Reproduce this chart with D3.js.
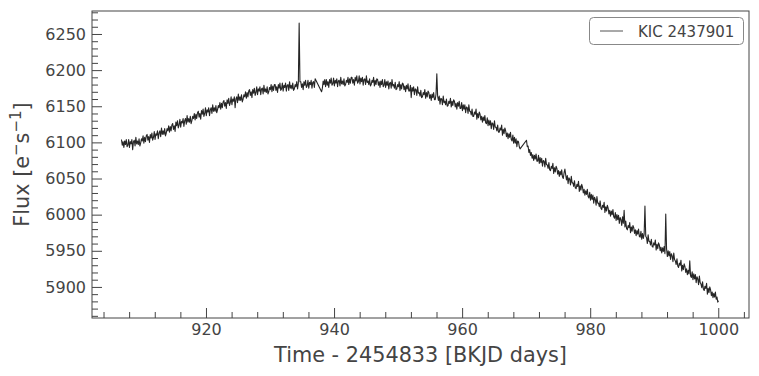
<!DOCTYPE html>
<html>
<head>
<meta charset="utf-8">
<script src="https://cdn.jsdelivr.net/npm/d3@7"></script>
<style>
  html, body { margin: 0; padding: 0; background: #fff; }
  svg { display: block; font-family: "DejaVu Sans", sans-serif; }
</style>
</head>
<body>
<svg id="chart" width="759" height="376"></svg>
<script>
// ---- data ----
const seriesName = "KIC 2437901";
const timeStart = 906.8;      // BKJD days, first sample
const timeStep = 0.125;       // days between samples (8 per row = 1 day)
// flux in e-/s; null = no data (gap)
const flux = [
  6104, 6096, 6101, 6093, 6102, 6097, 6104, 6094,
  6096, 6104, 6093, 6101, 6098, 6104, 6090, 6101,
  6103, 6095, 6107, 6098, 6102, 6097, 6105, 6095,
  6099, 6105, 6102, 6109, 6099, 6107, 6101, 6109,
  6111, 6103, 6108, 6100, 6111, 6106, 6113, 6103,
  6107, 6115, 6104, 6112, 6110, 6116, 6105, 6113,
  6116, 6108, 6120, 6111, 6116, 6111, 6119, 6109,
  6113, 6119, 6116, 6123, 6114, 6122, 6116, 6124,
  6126, 6118, 6123, 6115, 6128, 6123, 6130, 6120,
  6124, 6132, 6121, 6129, 6127, 6133, 6122, 6130,
  6133, 6125, 6137, 6128, 6133, 6128, 6136, 6126,
  6130, 6136, 6133, 6140, 6131, 6139, 6133, 6141,
  6143, 6135, 6140, 6132, 6144, 6139, 6146, 6136,
  6140, 6148, 6137, 6145, 6142, 6148, 6137, 6145,
  6148, 6140, 6152, 6143, 6148, 6143, 6151, 6141,
  6145, 6151, 6148, 6155, 6146, 6154, 6148, 6156,
  6158, 6150, 6155, 6147, 6159, 6154, 6161, 6151,
  6155, 6163, 6152, 6160, 6157, 6163, 6148, 6160,
  6163, 6155, 6167, 6158, 6163, 6158, 6166, 6156,
  6160, 6166, 6163, 6170, 6161, 6169, 6163, 6171,
  6173, 6165, 6170, 6162, 6173, 6168, 6175, 6165,
  6169, 6177, 6166, 6174, 6171, 6177, 6166, 6174,
  6175, 6167, 6179, 6170, 6174, 6169, 6177, 6167,
  6170, 6176, 6173, 6180, 6170, 6178, 6172, 6180,
  6180, 6172, 6177, 6169, 6180, 6175, 6182, 6172,
  6174, 6182, 6171, 6179, 6176, 6182, 6171, 6179,
  6180, 6172, 6184, 6175, 6179, 6174, 6182, 6172,
  6174, 6180, 6177, 6184, 6174, 6182, 6265, 6184,
  6184, 6176, 6181, 6173, 6184, 6179, 6186, 6176,
  6178, 6186, 6175, 6183, 6180, 6186, 6175, 6183,
  6184, 6176, 6188, null, null, null, null, null,
  null, null, 6170, 6175, 6185, 6180, 6187, 6177,
  6187, 6179, 6184, 6176, 6187, 6182, 6189, 6179,
  6181, 6189, 6178, 6186, 6182, 6188, 6177, 6185,
  6186, 6178, 6190, 6181, 6185, 6180, 6188, 6178,
  6180, 6186, 6183, 6190, 6180, 6188, 6182, 6190,
  6190, 6182, 6187, 6179, 6190, 6185, 6192, 6182,
  6184, 6192, 6181, 6189, 6184, 6190, 6179, 6187,
  6188, 6180, 6192, 6183, 6185, 6180, 6188, 6178,
  6180, 6186, 6183, 6190, 6178, 6186, 6180, 6188,
  6187, 6179, 6184, 6176, 6185, 6180, 6187, 6177,
  6179, 6187, 6176, 6184, 6179, 6185, 6174, 6182,
  6183, 6175, 6187, 6178, 6180, 6175, 6183, 6173,
  6174, 6180, 6177, 6184, 6172, 6180, 6174, 6182,
  6181, 6173, 6178, 6170, 6179, 6174, 6181, 6171,
  6171, 6179, 6162, 6176, 6171, 6177, 6166, 6174,
  6173, 6165, 6177, 6168, 6169, 6164, 6172, 6162,
  6163, 6169, 6166, 6173, 6161, 6169, 6163, 6171,
  6169, 6161, 6166, 6158, 6167, 6162, 6169, 6159,
  6159, 6167, 6195, 6164, 6158, 6164, 6153, 6161,
  6160, 6152, 6164, 6155, 6157, 6152, 6160, 6150,
  6151, 6157, 6154, 6161, 6149, 6157, 6151, 6159,
  6157, 6149, 6154, 6146, 6155, 6150, 6157, 6147,
  6147, 6155, 6144, 6152, 6146, 6152, 6141, 6149,
  6148, 6140, 6152, 6143, 6143, 6138, 6146, 6136,
  6136, 6142, 6139, 6146, 6132, 6140, 6134, 6142,
  6139, 6131, 6136, 6128, 6135, 6130, 6137, 6127,
  6126, 6134, 6123, 6131, 6124, 6130, 6119, 6127,
  6126, 6118, 6130, 6121, 6121, 6116, 6124, 6114,
  6114, 6120, 6117, 6124, 6110, 6118, 6112, 6120,
  6116, 6108, 6113, 6105, 6112, 6107, 6114, 6104,
  6102, 6110, 6099, 6107, 6099, 6105, 6094, 6102,
  6101, 6094, 6091, null, null, null, null, null,
  null, null, 6103, 6094, 6095, 6086, 6090, 6082,
  6086, 6078, 6083, 6075, 6082, 6077, 6084, 6074,
  6074, 6082, 6071, 6079, 6072, 6078, 6067, 6075,
  6074, 6066, 6078, 6069, 6069, 6064, 6072, 6062,
  6061, 6067, 6064, 6071, 6057, 6065, 6059, 6067,
  6064, 6056, 6061, 6053, 6060, 6055, 6062, 6052,
  6050, 6058, 6063, 6055, 6048, 6054, 6043, 6051,
  6049, 6041, 6053, 6044, 6044, 6039, 6047, 6037,
  6036, 6042, 6039, 6046, 6032, 6040, 6034, 6042,
  6038, 6030, 6035, 6027, 6033, 6028, 6035, 6025,
  6023, 6031, 6020, 6028, 6021, 6027, 6016, 6024,
  6021, 6013, 6025, 6016, 6016, 6011, 6019, 6009,
  6007, 6013, 6010, 6017, 6003, 6011, 6005, 6013,
  6009, 6001, 6006, 5998, 6005, 6000, 6007, 5997,
  5995, 6003, 5992, 6000, 5993, 5999, 5988, 5996,
  5993, 5985, 5997, 5988, 6006, 5983, 5991, 5981,
  5979, 5985, 5982, 5989, 5975, 5983, 5977, 5985,
  5982, 5974, 5979, 5971, 5978, 5973, 5980, 5970,
  5969, 5977, 5966, 5974, 5967, 5973, 6012, 5970,
  5968, 5960, 5972, 5963, 5963, 5958, 5966, 5956,
  5955, 5961, 5958, 5965, 5951, 5959, 5953, 5961,
  5958, 5950, 5955, 5947, 5954, 5949, 5956, 5946,
  6001, 5953, 5942, 5950, 5943, 5949, 5938, 5946,
  5943, 5935, 5947, 5938, 5936, 5931, 5939, 5929,
  5927, 5933, 5930, 5937, 5922, 5930, 5924, 5932,
  5928, 5920, 5925, 5917, 5923, 5918, 5936, 5915,
  5913, 5921, 5910, 5918, 5911, 5917, 5906, 5914,
  5911, 5903, 5915, 5906, 5904, 5899, 5907, 5897,
  5895, 5901, 5898, 5905, 5890, 5898, 5892, 5900,
  5896, 5888, 5893, 5885, 5891, 5886, 5893, 5883,
  5886, 5879, 5881
];
const xMajorTicks = [920, 940, 960, 980, 1000];
const yMajorTicks = [5900, 5950, 6000, 6050, 6100, 6150, 6200, 6250];
const xLabel = "Time - 2454833 [BKJD days]";

// ---- layout ----
const svg = d3.select("#chart");
const L = 92, R = 749, T = 11, B = 318;
const textColor = "#444";
const frameColor = "#444";

const x = d3.scaleLinear().domain([902.2, 1004.8]).range([L, R]);
const y = d3.scaleLinear().domain([5857, 6281.8]).range([B, T]);

const points = flux.map((f, i) => ({ t: timeStart + i * timeStep, f }))
                   .filter(d => d.f !== null);

// ---- line ----
svg.append("path")
  .datum(points)
  .attr("fill", "none")
  .attr("stroke", "#262626")
  .attr("stroke-width", 1.1)
  .attr("stroke-linejoin", "round")
  .attr("d", d3.line().x(d => x(d.t)).y(d => y(d.f)));

// ---- axes ----
const xMinor = d3.range(904, 1005, 4).filter(v => !xMajorTicks.includes(v));
const yMinor = d3.range(5860, 6281, 10).filter(v => !yMajorTicks.includes(v));

function styleAxis(g) {
  g.select(".domain").remove();
  g.selectAll(".tick line").attr("stroke", frameColor).attr("stroke-width", 1);
  g.selectAll(".tick text").attr("fill", textColor)
    .style("font-family", "DejaVu Sans, sans-serif").style("font-size", "16px");
}

svg.append("g").attr("transform", `translate(0,${B})`)
  .call(d3.axisBottom(x).tickValues(xMinor).tickSize(-6).tickFormat(""))
  .call(styleAxis);
svg.append("g").attr("transform", `translate(0,${B})`)
  .call(d3.axisBottom(x).tickValues(xMajorTicks).tickSize(-10).tickFormat(d3.format("d")))
  .call(styleAxis)
  .call(g => g.selectAll(".tick text").attr("y", 6).attr("dy", "0.71em"));
svg.append("g").attr("transform", `translate(${L},0)`)
  .call(d3.axisLeft(y).tickValues(yMinor).tickSize(-6).tickFormat(""))
  .call(styleAxis);
svg.append("g").attr("transform", `translate(${L},0)`)
  .call(d3.axisLeft(y).tickValues(yMajorTicks).tickSize(-10).tickFormat(d3.format("d")))
  .call(styleAxis)
  .call(g => g.selectAll(".tick text").attr("x", -6));

// frame
svg.append("rect")
  .attr("x", L).attr("y", T).attr("width", R - L).attr("height", B - T)
  .attr("fill", "none").attr("stroke", frameColor).attr("stroke-width", 1);

// axis labels
svg.append("text")
  .attr("x", (L + R) / 2).attr("y", 362)
  .attr("text-anchor", "middle").attr("fill", textColor)
  .style("font-size", "20.8px")
  .text(xLabel);

const yl = svg.append("text")
  .attr("transform", `translate(29,${(T + B) / 2}) rotate(-90)`)
  .attr("text-anchor", "middle").attr("fill", textColor)
  .style("font-size", "20.8px");
yl.append("tspan").text("Flux [e");
yl.append("tspan").attr("dy", -8).style("font-size", "15px").text("\u2212");
yl.append("tspan").attr("dy", 8).text("s");
yl.append("tspan").attr("dy", -8).style("font-size", "15px").text("\u22121");
yl.append("tspan").attr("dy", 8).text("]");

// legend
const lg = svg.append("g");
lg.append("rect")
  .attr("x", 589.5).attr("y", 17.5).attr("width", 154).attr("height", 27).attr("rx", 4)
  .attr("fill", "#fff").attr("stroke", "#888").attr("stroke-width", 1);
lg.append("line")
  .attr("x1", 600).attr("x2", 623).attr("y1", 31).attr("y2", 31)
  .attr("stroke", "#262626").attr("stroke-width", 0.8);
lg.append("text")
  .attr("x", 638).attr("y", 36.5).attr("fill", textColor)
  .style("font-size", "15px")
  .text(seriesName);
</script>
</body>
</html>
